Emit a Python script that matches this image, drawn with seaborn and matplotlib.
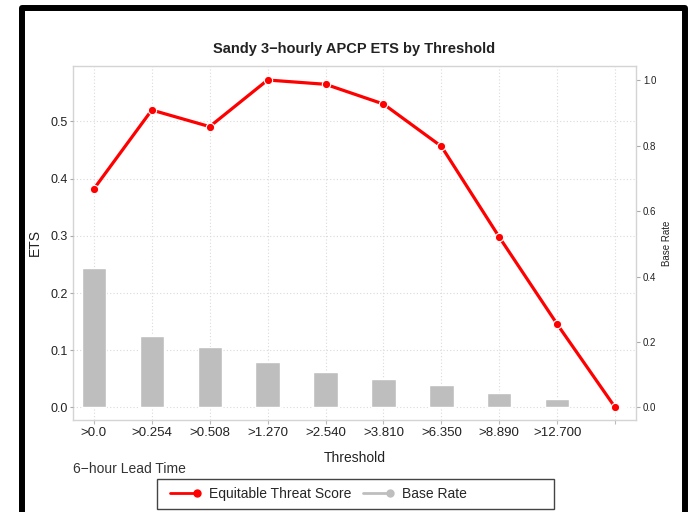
import numpy as np
import pandas as pd
import seaborn as sns
import matplotlib
matplotlib.use("Agg")
import matplotlib.pyplot as plt
from matplotlib.lines import Line2D
from matplotlib.patches import Rectangle
from matplotlib.legend_handler import HandlerLine2D

# values
thresholds = [">0.0", ">0.254", ">0.508", ">1.270", ">2.540", ">3.810",
              ">6.350", ">8.890", ">12.700", ">25.400"]
tick_labels = [">0.0", ">0.254", ">0.508", ">1.270", ">2.540", ">3.810",
               ">6.350", ">8.890", ">12.700", ""]
ets = [0.382, 0.520, 0.491, 0.5725, 0.565, 0.5305, 0.4565, 0.2977, 0.1454, 0.0]
base_rate = [0.427, 0.217, 0.186, 0.140, 0.107, 0.088, 0.068, 0.044, 0.026, 0.0]

ets_ticks = [0.0, 0.1, 0.2, 0.3, 0.4, 0.5]
br_ticks = [0.0, 0.2, 0.4, 0.6, 0.8, 1.0]


class EndMarkerHandler(HandlerLine2D):
    # legend line with the dot at its right end
    def create_artists(self, *args, **kwargs):
        arts = super().create_artists(*args, **kwargs)
        for a in arts:
            a.set_markevery([2])
        return arts


sns.set_theme(style="white")
plt.rcParams["font.family"] = ["Liberation Sans", "DejaVu Sans"]

txt = "#222222"
grid_col = "#DADADA"
spine_col = "#D4D4D4"

df = pd.DataFrame({"threshold": thresholds, "base_rate": base_rate, "ets": ets})

fig = plt.figure(figsize=(6.92, 5.12), dpi=100)
W, H = 692, 512
ax = fig.add_axes([73 / W, 1 - 420 / H, (636 - 73) / W, (420 - 66) / H])

# base rate bars on the bottom axes (right hand scale)
sns.barplot(data=df, x="threshold", y="base_rate", order=thresholds,
            color="#BEBEBE", saturation=1, width=0.42, ax=ax, zorder=2)

# ETS line on the twin axes, scale shown on the left
ax_ets = ax.twinx()
sns.lineplot(x=np.arange(len(ets)), y=ets, ax=ax_ets, color="red", lw=2.3,
             marker="o", markersize=6, markeredgecolor="white",
             markeredgewidth=0.8, zorder=3)

ets_lim = (-0.022, 0.597)
br_lim = (-0.0387, 1.0436)

ax.set_ylim(br_lim)
ax.yaxis.tick_right()
ax.yaxis.set_label_position("right")
ax.set_yticks(br_ticks)
ax.set_yticklabels([f"{v:.1f}" for v in br_ticks], fontsize=7, color=txt)
ax.set_ylabel("Base Rate", fontsize=7, color=txt, labelpad=4)

# horizontal grid follows the ETS ticks
k = (br_lim[1] - br_lim[0]) / (ets_lim[1] - ets_lim[0])
ax.set_yticks([br_lim[0] + (v - ets_lim[0]) * k for v in ets_ticks], minor=True)
ax.grid(False)
ax.grid(axis="y", which="minor", ls=(0, (1, 2)), color=grid_col, lw=0.8)
ax.grid(axis="x", which="major", ls=(0, (1, 2)), color=grid_col, lw=0.8)
ax.tick_params(axis="y", which="minor", length=0, left=False, right=False)
ax.tick_params(axis="y", which="major", right=True, left=False,
               labelright=True, labelleft=False, length=3,
               width=0.8, color="#AAAAAA", pad=2)

ax.set_xticks(range(len(tick_labels)))
ax.set_xticklabels(tick_labels, fontsize=9.5, color=txt)
ax.tick_params(axis="x", bottom=True, length=3, width=0.8, color="#BBBBBB", pad=2)
ax.set_xlim(-0.36, 9.36)
ax.set_xlabel("Threshold", fontsize=10, color=txt, labelpad=9)
for s in ax.spines.values():
    s.set_visible(True)
    s.set_color(spine_col)
    s.set_linewidth(1)

ax_ets.set_ylim(ets_lim)
ax_ets.yaxis.tick_left()
ax_ets.yaxis.set_label_position("left")
ax_ets.set_yticks(ets_ticks)
ax_ets.set_yticklabels([f"{v:.1f}" for v in ets_ticks], fontsize=9, color=txt)
ax_ets.tick_params(axis="y", left=True, right=False, labelleft=True,
                   labelright=False, length=2.5, width=0.8,
                   color="#AAAAAA", pad=1.5)
ax_ets.set_ylabel("ETS", fontsize=10, color=txt, labelpad=6)
ax_ets.set_xlim(-0.36, 9.36)
for s in ax_ets.spines.values():
    s.set_visible(False)

fig.text(354 / W, 1 - 52.7 / H, "Sandy 3\u2212hourly APCP ETS by Threshold",
         fontsize=10.5, fontweight="bold", ha="center", va="baseline", color=txt)
fig.text(73 / W, 1 - 472.7 / H, "6\u2212hour Lead Time", fontsize=10,
         ha="left", va="baseline", color="#333333")

# legend
handles = [
    Line2D([], [], color="red", lw=2, marker="o", markersize=5),
    Line2D([], [], color="#BEBEBE", lw=2, marker="o", markersize=5),
]
fig.legend(handles, ["Equitable Threat Score", "Base Rate"], ncol=2,
           loc="center left", bbox_to_anchor=(160 / W, 1 - 494 / H),
           frameon=False, fontsize=10, numpoints=1, handlelength=1.95,
           handletextpad=0.9, columnspacing=0.8, borderpad=0.2,
           handler_map={Line2D: EndMarkerHandler()})
fig.add_artist(Rectangle((157 / W, 1 - 509 / H), (554 - 157) / W, 30 / H,
                         transform=fig.transFigure, fill=False,
                         edgecolor="#444444", lw=1))

# outer frame
fig.add_artist(Rectangle((22 / W, -0.1), (685 - 22) / W, 1 - 8 / H + 0.1,
                         transform=fig.transFigure, fill=False,
                         edgecolor="black", lw=4.3, joinstyle="round"))

fig.savefig("out.png", dpi=100)
